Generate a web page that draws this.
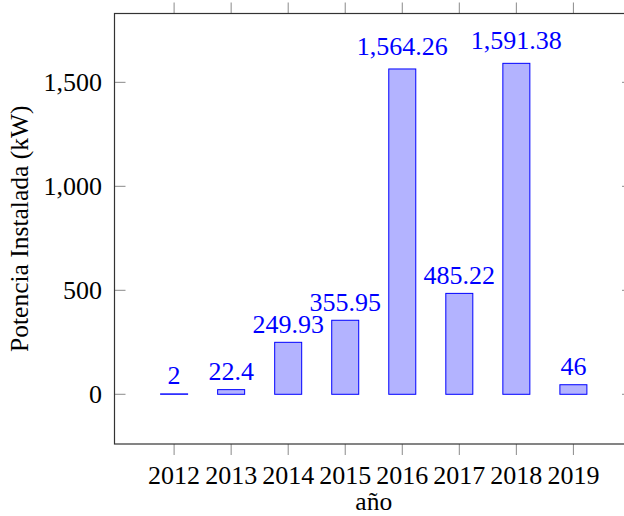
<!DOCTYPE html>
<html>
<head>
<meta charset="utf-8">
<script src="https://cdn.jsdelivr.net/npm/d3@7"></script>
<style>
  body { margin: 0; background: #fff; }
  svg { display: block; }
</style>
</head>
<body>
<div id="chart"></div>
<script>
// data
const years = [2012, 2013, 2014, 2015, 2016, 2017, 2018, 2019];
const potencia = [2, 22.4, 249.93, 355.95, 1564.26, 485.22, 1591.38, 46];
const labels = ["2", "22.4", "249.93", "355.95", "1,564.26", "485.22", "1,591.38", "46"];
const yTicks = [0, 500, 1000, 1500];

const width = 624;
const height = 516;
// plot box (right edge sits just outside the window, as in the reference)
const margin = { top: 13.5, right: -9, bottom: 72, left: 114.5 };

const serif = "'Liberation Serif', 'Times New Roman', Times, 'DejaVu Serif', serif";

const svg = d3
  .select("#chart")
  .append("svg")
  .attr("width", width)
  .attr("height", height)
  .attr("font-family", serif);

const x = d3
  .scaleLinear()
  .domain([2010.955, 2020.045])
  .range([margin.left, width - margin.right]);

const y = d3
  .scaleLinear()
  .domain([-239, 1831])
  .range([height - margin.bottom, margin.top]);

const fontSize = 26;
const titleSize = 25.5;
const barWidth = 27;

// bars
svg
  .append("g")
  .selectAll("rect")
  .data(years)
  .enter()
  .append("rect")
  .attr("x", (d) => x(d) - barWidth / 2)
  .attr("y", (d, i) => y(potencia[i]))
  .attr("width", barWidth)
  .attr("height", (d, i) => Math.max(0, y(0) - y(potencia[i])))
  .attr("fill", "#b3b3ff")
  .attr("stroke", "#0000ff")
  .attr("stroke-width", 1);

// nodes near coords
svg
  .append("g")
  .selectAll("text")
  .data(years)
  .enter()
  .append("text")
  .attr("x", (d) => x(d))
  .attr("y", (d, i) => y(potencia[i]) - (labels[i].includes(",") ? 14 : 9.5))
  .attr("text-anchor", "middle")
  .attr("font-family", serif)
  .attr("font-size", fontSize)
  .attr("fill", "#0000ff")
  .text((d, i) => labels[i]);

// axis frame
const x0 = margin.left, x1 = width - margin.right;
const y0 = margin.top, y1 = height - margin.bottom;

const tickColor = "#8a8a8a";
const tickLen = 11;

// x ticks, outside on bottom and top
const xt = svg.append("g");
years.forEach((d) => {
  xt.append("line")
    .attr("x1", x(d)).attr("x2", x(d))
    .attr("y1", y1).attr("y2", y1 + tickLen)
    .attr("stroke", tickColor).attr("stroke-width", 1);
  xt.append("line")
    .attr("x1", x(d)).attr("x2", x(d))
    .attr("y1", y0).attr("y2", y0 - tickLen)
    .attr("stroke", tickColor).attr("stroke-width", 1);
  xt.append("text")
    .attr("x", x(d))
    .attr("y", 483.5)
    .attr("text-anchor", "middle")
    .attr("font-family", serif)
    .attr("font-size", fontSize)
    .attr("fill", "#000")
    .text(d);
});

// y ticks, inside on left and right
const yt = svg.append("g");
yTicks.forEach((d) => {
  yt.append("line")
    .attr("x1", x0).attr("x2", x0 + tickLen)
    .attr("y1", y(d)).attr("y2", y(d))
    .attr("stroke", tickColor).attr("stroke-width", 1);
  yt.append("line")
    .attr("x1", x1).attr("x2", x1 - tickLen)
    .attr("y1", y(d)).attr("y2", y(d))
    .attr("stroke", tickColor).attr("stroke-width", 1);
  yt.append("text")
    .attr("x", 102)
    .attr("y", y(d))
    .attr("dy", "0.34em")
    .attr("text-anchor", "end")
    .attr("font-family", serif)
    .attr("font-size", fontSize)
    .attr("fill", "#000")
    .text(d3.format(",")(d));
});

svg
  .append("rect")
  .attr("x", x0)
  .attr("y", y0)
  .attr("width", x1 - x0)
  .attr("height", y1 - y0)
  .attr("fill", "none")
  .attr("stroke", "#333")
  .attr("stroke-width", 1.2);

// axis titles
svg
  .append("text")
  .attr("x", (x0 + x1) / 2)
  .attr("y", 510)
  .attr("text-anchor", "middle")
  .attr("font-family", serif)
  .attr("font-size", titleSize)
  .attr("fill", "#000")
  .text("año");

svg
  .append("text")
  .attr("transform", `translate(28,${(y0 + y1) / 2}) rotate(-90)`)
  .attr("text-anchor", "middle")
  .attr("font-family", serif)
  .attr("font-size", titleSize)
  .attr("fill", "#000")
  .text("Potencia Instalada (kW)");
</script>
</body>
</html>
